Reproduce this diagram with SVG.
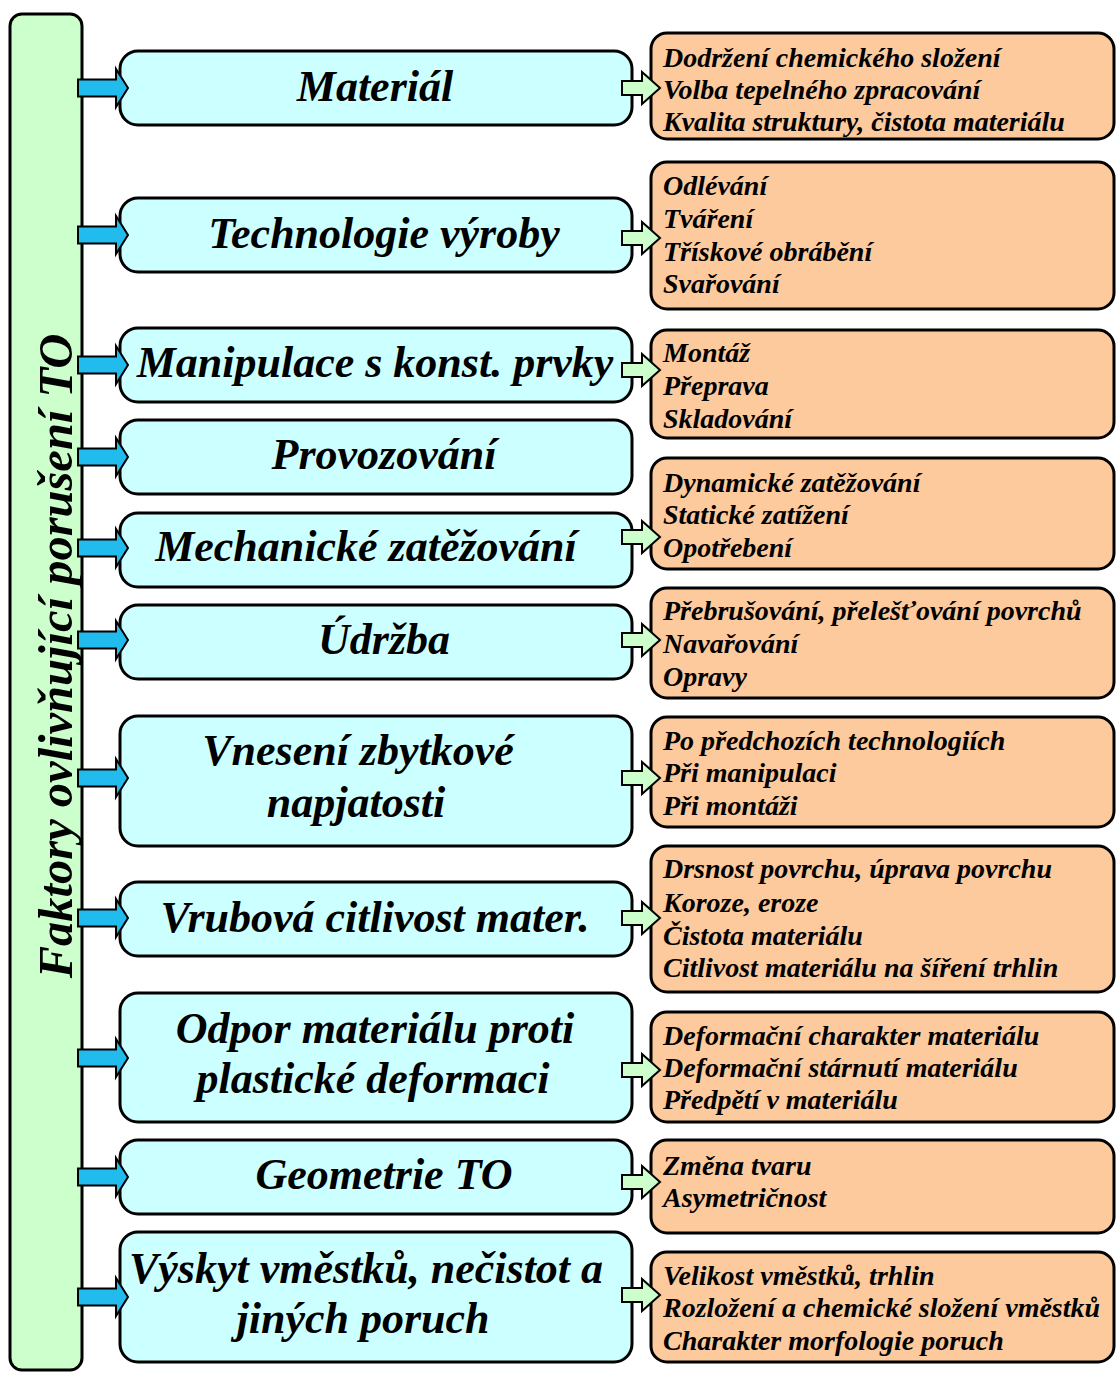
<svg xmlns="http://www.w3.org/2000/svg" width="1116" height="1373" viewBox="0 0 1116 1373">
<style>
text{font-family:"Liberation Serif","Times New Roman",serif;font-weight:bold;font-style:italic;fill:#000}
.bar{fill:#ccffcc;stroke:#000;stroke-width:3}
.main{fill:#ccffff;stroke:#000;stroke-width:3}
.det{fill:#fcca9c;stroke:#000;stroke-width:3}
.mt{font-size:44px;text-anchor:middle}
.dt{font-size:28px}
.ba{fill:#22bbee;stroke:#000;stroke-width:2;stroke-linejoin:miter}
.ga{fill:#ccffcc;stroke:#000;stroke-width:2;stroke-linejoin:miter}
</style>
<defs>
<polygon id="barrow" points="78,-8.5 116,-8.5 116,-19 128,0 116,19 116,8.5 78,8.5"/>
<polygon id="garrow" points="622,-7 642,-7 642,-16 660,0 642,16 642,7 622,7"/>
</defs>

<g id="root">
<rect class="bar" x="10" y="14" width="72" height="1356" rx="12"/>
<text transform="translate(72,656) rotate(-90)" style="font-size:48.5px;text-anchor:middle">Faktory ovlivňující porušení TO</text>
</g>

<g id="n1"><rect class="main" x="120" y="51" width="512" height="74" rx="18"/><text class="mt" x="375" y="101">Materiál</text></g>
<g id="n2"><rect class="main" x="120" y="198" width="512" height="74" rx="18"/><text class="mt" x="384" y="248">Technologie výroby</text></g>
<g id="n3"><rect class="main" x="120" y="328" width="512" height="74" rx="18"/><text class="mt" x="375" y="377">Manipulace s konst. prvky</text></g>
<g id="n4"><rect class="main" x="120" y="420" width="512" height="74" rx="18"/><text class="mt" x="384" y="469">Provozování</text></g>
<g id="n5"><rect class="main" x="120" y="513" width="512" height="74" rx="18"/><text class="mt" x="366" y="561">Mechanické zatěžování</text></g>
<g id="n6"><rect class="main" x="120" y="605" width="512" height="74" rx="18"/><text class="mt" x="384" y="654">Údržba</text></g>
<g id="n7"><rect class="main" x="120" y="716" width="512" height="130" rx="18"/><text class="mt" x="358" y="765">Vnesení zbytkové</text><text class="mt" x="356" y="817">napjatosti</text></g>
<g id="n8"><rect class="main" x="120" y="882" width="512" height="74" rx="18"/><text class="mt" x="375" y="932">Vrubová citlivost mater.</text></g>
<g id="n9"><rect class="main" x="120" y="993" width="512" height="129" rx="18"/><text class="mt" x="375" y="1043">Odpor materiálu proti</text><text class="mt" x="373" y="1093">plastické deformaci</text></g>
<g id="n10"><rect class="main" x="120" y="1140" width="512" height="74" rx="18"/><text class="mt" x="384" y="1189">Geometrie TO</text></g>
<g id="n11"><rect class="main" x="120" y="1232" width="512" height="130" rx="18"/><text class="mt" x="366" y="1283">Výskyt vměstků, nečistot a</text><text class="mt" x="363" y="1333">jiných poruch</text></g>

<g id="d1"><rect class="det" x="651" y="33" width="463" height="106" rx="16"/>
<text class="dt" x="663" y="67">Dodržení chemického složení</text><text class="dt" x="663" y="99">Volba tepelného zpracování</text><text class="dt" x="663" y="131">Kvalita struktury, čistota materiálu</text></g>
<g id="d2"><rect class="det" x="651" y="162" width="463" height="147" rx="16"/>
<text class="dt" x="663" y="195">Odlévání</text><text class="dt" x="663" y="228">Tváření</text><text class="dt" x="663" y="261">Třískové obrábění</text><text class="dt" x="663" y="293">Svařování</text></g>
<g id="d3"><rect class="det" x="651" y="330" width="463" height="108" rx="16"/>
<text class="dt" x="663" y="362">Montáž</text><text class="dt" x="663" y="395">Přeprava</text><text class="dt" x="663" y="428">Skladování</text></g>
<g id="d5"><rect class="det" x="651" y="458" width="463" height="111" rx="16"/>
<text class="dt" x="663" y="492">Dynamické zatěžování</text><text class="dt" x="663" y="524">Statické zatížení</text><text class="dt" x="663" y="557">Opotřebení</text></g>
<g id="d6"><rect class="det" x="651" y="588" width="463" height="110" rx="16"/>
<text class="dt" x="663" y="620">Přebrušování, přelešťování povrchů</text><text class="dt" x="663" y="653">Navařování</text><text class="dt" x="663" y="686">Opravy</text></g>
<g id="d7"><rect class="det" x="651" y="717" width="463" height="110" rx="16"/>
<text class="dt" x="663" y="750">Po předchozích technologiích</text><text class="dt" x="663" y="782">Při manipulaci</text><text class="dt" x="663" y="815">Při montáži</text></g>
<g id="d8"><rect class="det" x="651" y="846" width="463" height="146" rx="16"/>
<text class="dt" x="663" y="878">Drsnost povrchu, úprava povrchu</text><text class="dt" x="663" y="912">Koroze, eroze</text><text class="dt" x="663" y="945">Čistota materiálu</text><text class="dt" x="663" y="977">Citlivost materiálu na šíření trhlin</text></g>
<g id="d9"><rect class="det" x="651" y="1012" width="463" height="110" rx="16"/>
<text class="dt" x="663" y="1045">Deformační charakter materiálu</text><text class="dt" x="663" y="1077">Deformační stárnutí materiálu</text><text class="dt" x="663" y="1109">Předpětí v materiálu</text></g>
<g id="d10"><rect class="det" x="651" y="1140" width="463" height="93" rx="16"/>
<text class="dt" x="663" y="1175">Změna tvaru</text><text class="dt" x="663" y="1207">Asymetričnost</text></g>
<g id="d11"><rect class="det" x="651" y="1252" width="463" height="110" rx="16"/>
<text class="dt" x="663" y="1285">Velikost vměstků, trhlin</text><text class="dt" x="663" y="1317">Rozložení a chemické složení vměstků</text><text class="dt" x="663" y="1350">Charakter morfologie poruch</text></g>

<g id="connectors">
<use href="#barrow" class="ba" y="88"/>
<use href="#barrow" class="ba" y="235"/>
<use href="#barrow" class="ba" y="365"/>
<use href="#barrow" class="ba" y="457"/>
<use href="#barrow" class="ba" y="548"/>
<use href="#barrow" class="ba" y="640"/>
<use href="#barrow" class="ba" y="778"/>
<use href="#barrow" class="ba" y="918"/>
<use href="#barrow" class="ba" y="1058"/>
<use href="#barrow" class="ba" y="1177"/>
<use href="#barrow" class="ba" y="1297"/>
<use href="#garrow" class="ga" y="88"/>
<use href="#garrow" class="ga" y="238"/>
<use href="#garrow" class="ga" y="370"/>
<use href="#garrow" class="ga" y="537"/>
<use href="#garrow" class="ga" y="640"/>
<use href="#garrow" class="ga" y="778"/>
<use href="#garrow" class="ga" y="918"/>
<use href="#garrow" class="ga" y="1070"/>
<use href="#garrow" class="ga" y="1182"/>
<use href="#garrow" class="ga" y="1295"/>
</g>
</svg>
